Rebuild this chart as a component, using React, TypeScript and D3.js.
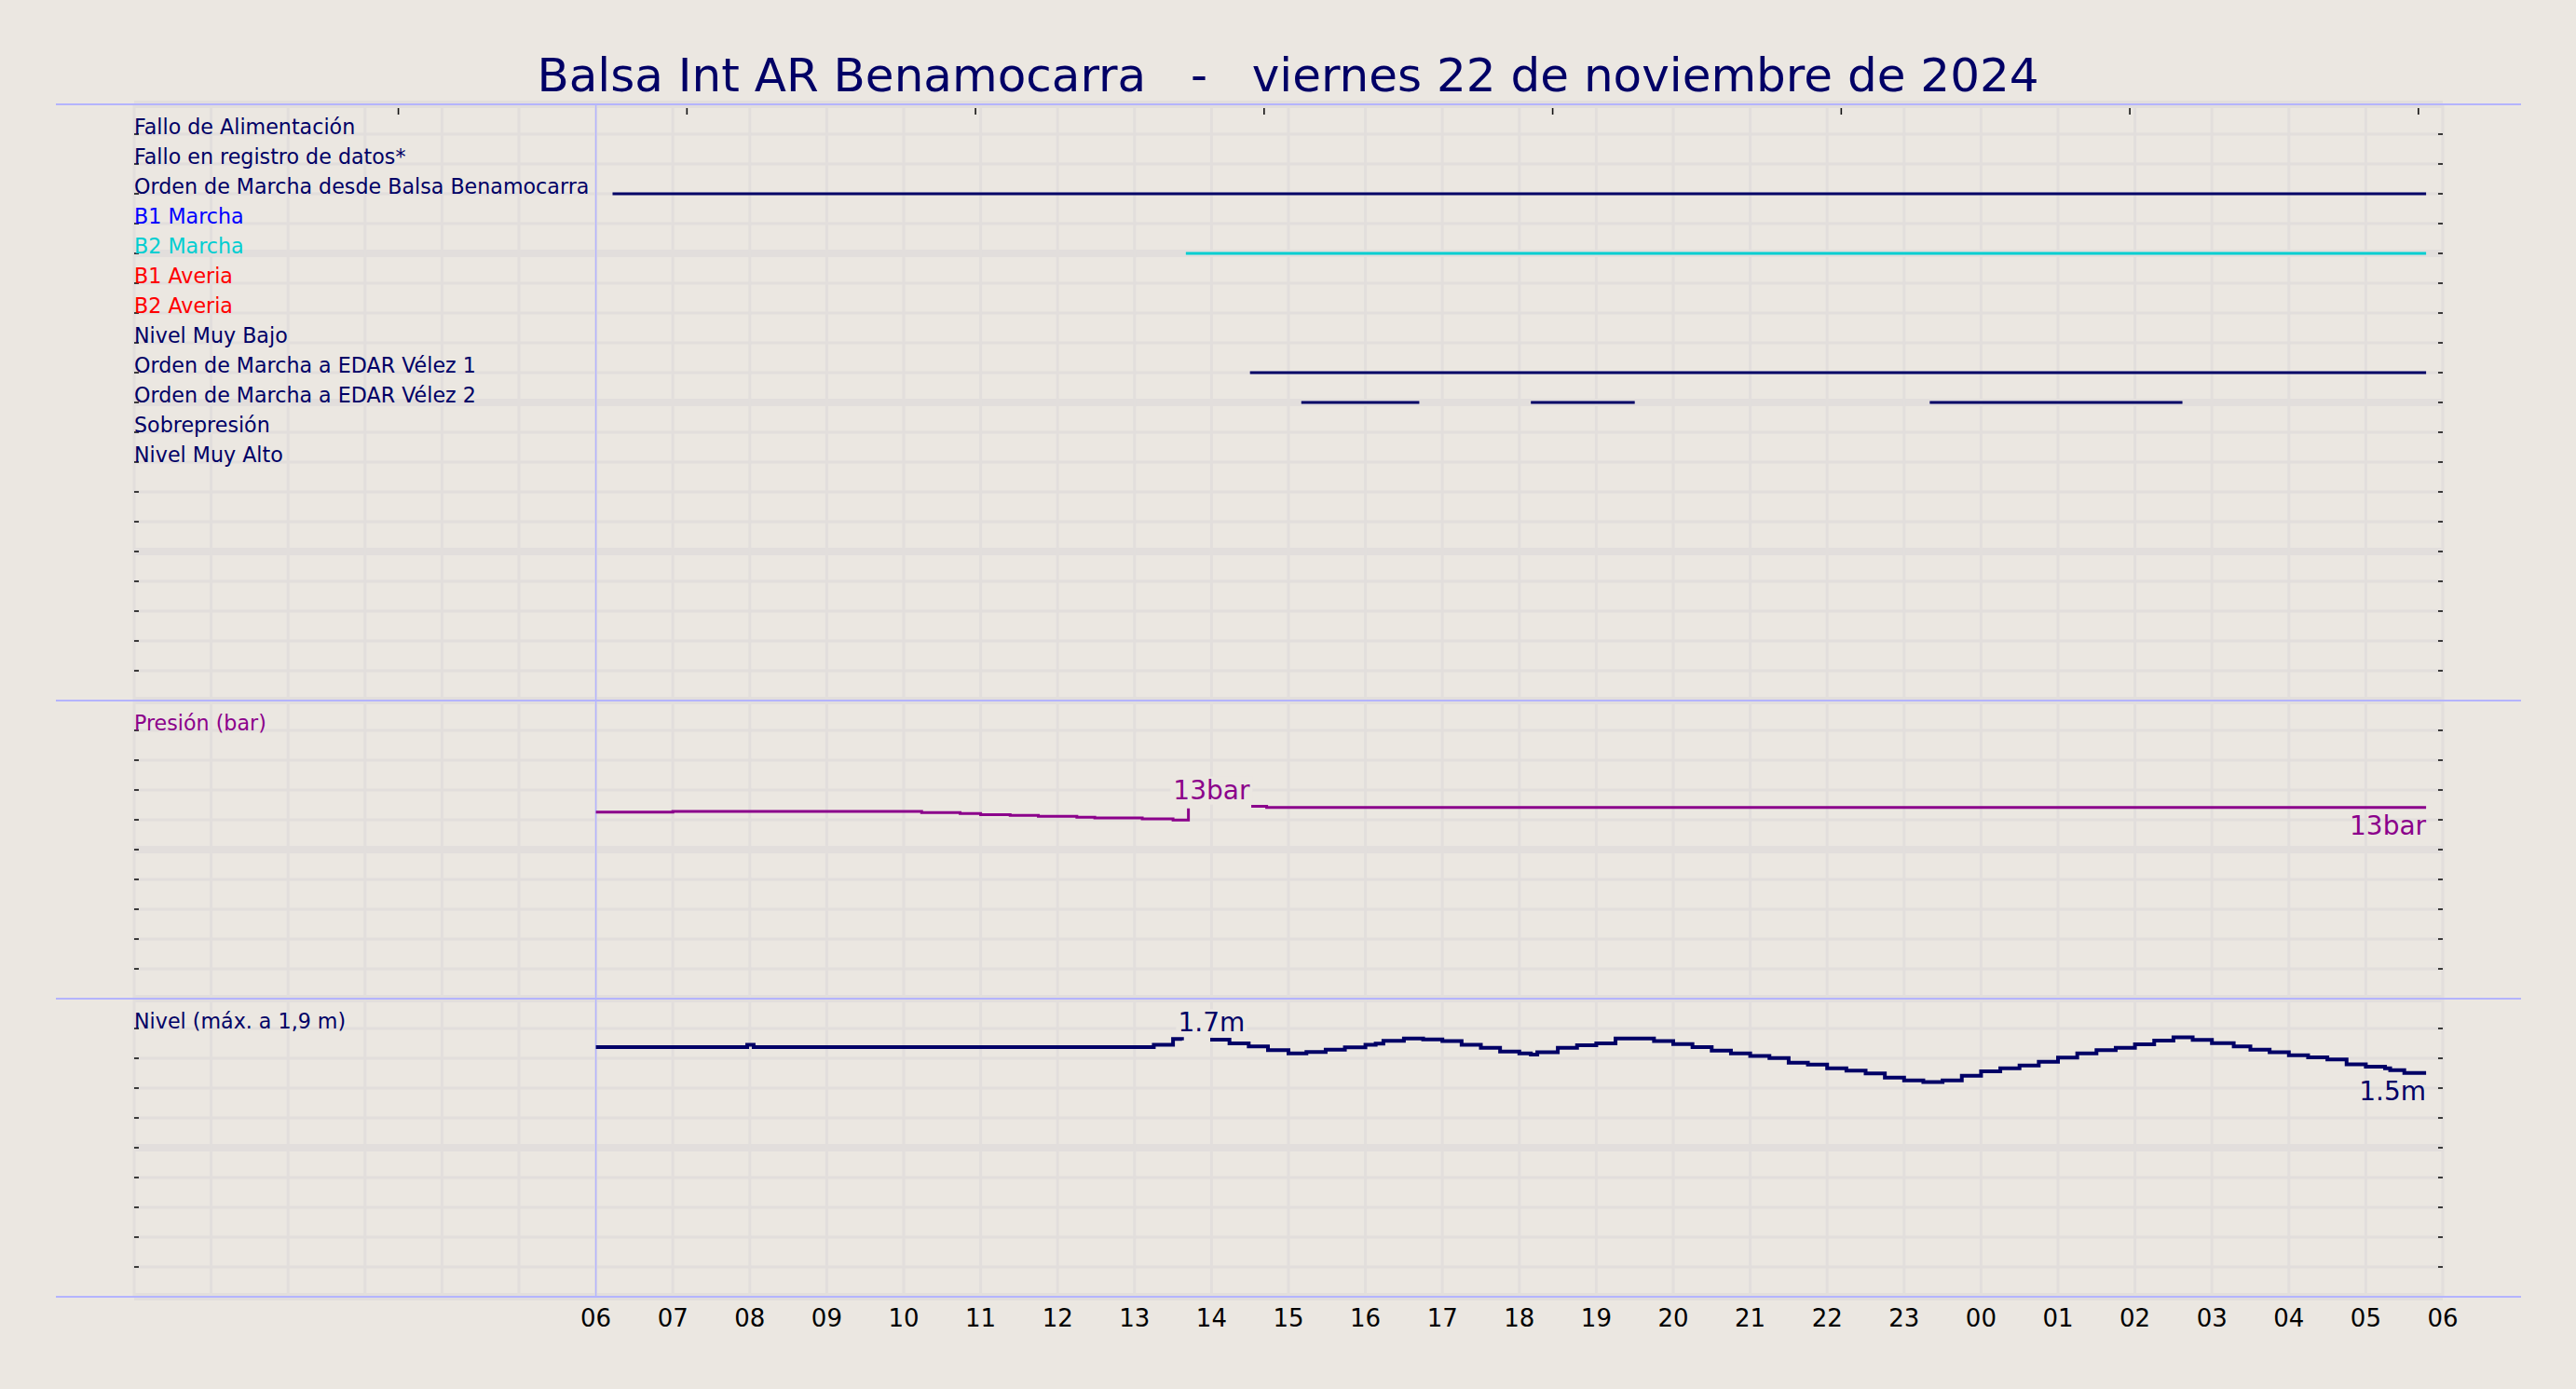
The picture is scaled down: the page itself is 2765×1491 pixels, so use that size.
import React, { useEffect } from 'react';
import * as d3 from 'd3';

const W = 2765;
const H = 1491;
const BG = '#ebe7e1';
const GRID = '#e2dedc';
const SEP = '#b4b4ff';
const NAVY = '#000066';
const PURPLE = '#8b008b';
const FONT = '"DejaVu Sans", Verdana, sans-serif';

const TITLE = 'Balsa Int AR Benamocarra   -   viernes 22 de noviembre de 2024';

// time domain (day-of-month + time)
const domainStart = '22 00:00';
const domainEnd = '23 06:00';
const labelStart = '22 06:00';

// digital signals
const signalLabels = [
  'Fallo de Alimentación',
  'Fallo en registro de datos*',
  'Orden de Marcha desde Balsa Benamocarra',
  'B1 Marcha',
  'B2 Marcha',
  'B1 Averia',
  'B2 Averia',
  'Nivel Muy Bajo',
  'Orden de Marcha a EDAR Vélez 1',
  'Orden de Marcha a EDAR Vélez 2',
  'Sobrepresión',
  'Nivel Muy Alto',
];
const signalColors = [NAVY, NAVY, NAVY, '#0000ff', '#00ced1', '#ff0000', '#ff0000', NAVY, NAVY, NAVY, NAVY, NAVY];

// ON intervals
const onRow = [2, 4, 8, 9, 9, 9];
const onStart = ['22 06:13', '22 13:40', '22 14:30', '22 15:10', '22 18:09', '22 23:20'];
const onEnd = ['23 05:47', '23 05:47', '23 05:47', '22 16:42', '22 19:30', '23 02:37'];

// pressure (bar)
const pressureTimes = [
  '22 06:00', '22 07:00', '22 10:14', '22 10:44', '22 11:00', '22 11:23', '22 11:45', '22 12:15',
  '22 12:29', '22 13:06', '22 13:30', '22 13:42', '22 13:43', '22 14:31', '22 14:43', '23 05:47',
];
const pressureValues: (number | null)[] = [
  12.52, 12.56, 12.48, 12.42, 12.35, 12.29, 12.23, 12.17,
  12.125, 12.06, 11.98, 12.77, null, 12.9, 12.83, 12.83,
];

// level (m)
const levelTimes = [
  '22 06:00', '22 07:58', '22 08:03', '22 13:15', '22 13:30', '22 13:37', '22 13:46', '22 13:59',
  '22 14:14', '22 14:29', '22 14:44', '22 15:00', '22 15:14', '22 15:29', '22 15:44', '22 16:00',
  '22 16:08', '22 16:14', '22 16:30', '22 16:45', '22 17:00', '22 17:15', '22 17:30', '22 17:45',
  '22 18:00', '22 18:09', '22 18:14', '22 18:30', '22 18:45', '22 19:00', '22 19:15', '22 19:45',
  '22 20:00', '22 20:15', '22 20:30', '22 20:45', '22 21:00', '22 21:15', '22 21:30', '22 21:45',
  '22 22:00', '22 22:15', '22 22:30', '22 22:45', '22 23:00', '22 23:15', '22 23:30', '22 23:45',
  '23 00:00', '23 00:15', '23 00:30', '23 00:45', '23 01:00', '23 01:15', '23 01:30', '23 01:45',
  '23 02:00', '23 02:15', '23 02:30', '23 02:45', '23 03:00', '23 03:17', '23 03:30', '23 03:45',
  '23 04:00', '23 04:15', '23 04:30', '23 04:45', '23 05:00', '23 05:15', '23 05:19', '23 05:30',
  '23 05:47',
];
const levelValues: (number | null)[] = [
  1.675, 1.69, 1.675, 1.69, 1.73, 1.72, null, 1.725,
  1.70, 1.68, 1.655, 1.633, 1.642, 1.658, 1.673, 1.69,
  1.698, 1.717, 1.733, 1.727, 1.715, 1.69, 1.67, 1.646,
  1.633, 1.625, 1.64, 1.67, 1.6875, 1.70, 1.733, 1.715,
  1.696, 1.675, 1.652, 1.633, 1.615, 1.602, 1.571, 1.558,
  1.533, 1.517, 1.498, 1.471, 1.452, 1.44, 1.452, 1.483,
  1.5125, 1.533, 1.552, 1.577, 1.604, 1.633, 1.654, 1.671,
  1.694, 1.719, 1.74, 1.723, 1.702, 1.679, 1.658, 1.64,
  1.621, 1.606, 1.592, 1.56, 1.544, 1.533, 1.52, 1.502,
  1.502,
];

// annotations
const annotTime = '22 14:00';
const pressureAnnotValue = 12.9;
const levelAnnotValue = 1.73;

// top ticks (secondary axis marks)
const topTickTimes = ['22 03:26', '22 07:11', '22 10:56', '22 14:41', '22 18:26', '22 22:11', '23 01:56', '23 05:41'];

const parse = d3.timeParse('%d %H:%M');
const P = (s: string) => parse(s) as Date;

export default function App() {
  useEffect(() => {
    document.body.style.margin = '0';
  }, []);

  const left = 144;
  const right = 2622;
  const top = 112;
  const sep1 = 752;
  const sep2 = 1072;
  const bottom = 1392;

  const x = d3.scaleTime().domain([P(domainStart), P(domainEnd)]).range([left, right]);
  const rowY = d3.scaleLinear().domain([0, 40]).range([top, bottom]);
  const yP = d3.scaleLinear().domain([0, 20]).range([sep2, sep1]);
  const yL = d3.scaleLinear().domain([0, 2]).range([bottom, sep2]);

  const hourTicks = d3.timeHour.range(P(domainStart), d3.timeMinute.offset(P(domainEnd), 1));
  const labelTicks = d3.timeHour.range(P(labelStart), d3.timeMinute.offset(P(domainEnd), 1));
  const fmt = d3.timeFormat('%H');
  const rows = d3.range(41);

  const pData = pressureTimes.map((t, i) => ({ t: P(t), v: pressureValues[i] }));
  const lData = levelTimes.map((t, i) => ({ t: P(t), v: levelValues[i] }));

  const pLine = d3
    .line<{ t: Date; v: number | null }>()
    .defined((d) => d.v !== null)
    .x((d) => x(d.t))
    .y((d) => yP(d.v as number))
    .curve(d3.curveStepAfter);
  const lLine = d3
    .line<{ t: Date; v: number | null }>()
    .defined((d) => d.v !== null)
    .x((d) => x(d.t))
    .y((d) => yL(d.v as number))
    .curve(d3.curveStepAfter);

  const lastP = pData[pData.length - 1];
  const lastL = lData[lData.length - 1];
  const ax = x(P(annotTime));
  const pAnnY = yP(pressureAnnotValue) - 8;
  const lAnnY = yL(levelAnnotValue) - 8;

  return (
    <svg width={W} height={H} style={{ display: 'block' }} fontFamily={FONT}>
      <rect x={0} y={0} width={W} height={H} fill={BG} />

      {/* horizontal grid */}
      {rows.map((i) => (
        <line
          key={'h' + i}
          x1={left}
          x2={right}
          y1={rowY(i)}
          y2={rowY(i)}
          stroke={GRID}
          strokeWidth={i % 5 === 0 ? 8 : 3}
        />
      ))}
      {/* vertical grid */}
      {hourTicks.map((t, i) => (
        <line key={'v' + i} x1={x(t)} x2={x(t)} y1={top} y2={bottom} stroke={GRID} strokeWidth={3} />
      ))}

      {/* left / right ticks */}
      {rows.map((i) => (
        <g key={'tk' + i}>
          <line x1={left} x2={left + 5} y1={rowY(i)} y2={rowY(i)} stroke="#111" strokeWidth={1.6} />
          <line x1={right - 5} x2={right} y1={rowY(i)} y2={rowY(i)} stroke="#111" strokeWidth={1.6} />
        </g>
      ))}
      {/* top ticks */}
      {topTickTimes.map((t, i) => (
        <line key={'tt' + i} x1={x(P(t))} x2={x(P(t))} y1={116} y2={123} stroke="#111" strokeWidth={1.6} />
      ))}

      {/* blue vertical line at start of day window */}
      <line x1={x(P(labelStart))} x2={x(P(labelStart))} y1={top} y2={bottom} stroke={SEP} strokeWidth={1.5} />

      {/* separators */}
      {[top, sep1, sep2, bottom].map((y, i) => (
        <line key={'s' + i} x1={60} x2={2706} y1={y} y2={y} stroke={SEP} strokeWidth={2} />
      ))}

      {/* annotation boxes */}
      <rect x={ax - 44} y={pAnnY - 24} width={88} height={30} fill={BG} />
      <rect x={ax - 38} y={lAnnY - 24} width={76} height={28} fill={BG} />

      {/* digital signals */}
      {onRow.map((r, i) => (
        <line
          key={'on' + i}
          x1={x(P(onStart[i]))}
          x2={x(P(onEnd[i]))}
          y1={rowY(r + 1)}
          y2={rowY(r + 1)}
          stroke={signalColors[r]}
          strokeWidth={3}
        />
      ))}

      {/* pressure & level */}
      <path d={pLine(pData) || ''} fill="none" stroke={PURPLE} strokeWidth={3} />
      <path d={lLine(lData) || ''} fill="none" stroke={NAVY} strokeWidth={4} />

      {/* signal labels */}
      {signalLabels.map((s, i) => (
        <text key={'lb' + i} x={left} y={rowY(i + 1)} fontSize={22.2} fill={signalColors[i]}>
          {s}
        </text>
      ))}
      <text x={left} y={rowY(21)} fontSize={22.2} fill={PURPLE}>
        Presión (bar)
      </text>
      <text x={left} y={rowY(31)} fontSize={22.2} fill={NAVY}>
        Nivel (máx. a 1,9 m)
      </text>

      {/* annotations */}
      <text x={ax} y={pAnnY} fontSize={28} fill={PURPLE} textAnchor="middle">
        {Math.round(pressureAnnotValue) + 'bar'}
      </text>
      <text x={ax} y={lAnnY} fontSize={28} fill={NAVY} textAnchor="middle">
        {levelAnnotValue.toFixed(1) + 'm'}
      </text>
      <text x={x(lastP.t)} y={yP(lastP.v as number) + 29} fontSize={28} fill={PURPLE} textAnchor="end">
        {Math.round(lastP.v as number) + 'bar'}
      </text>
      <text x={x(lastL.t)} y={yL(lastL.v as number) + 29} fontSize={28} fill={NAVY} textAnchor="end">
        {(lastL.v as number).toFixed(1) + 'm'}
      </text>

      {/* x tick labels */}
      {labelTicks.map((t, i) => (
        <text key={'xl' + i} x={x(t)} y={1424} fontSize={26} fill="#000" textAnchor="middle">
          {fmt(t)}
        </text>
      ))}

      {/* title */}
      <text x={W / 2} y={98} fontSize={50} fill={NAVY} textAnchor="middle" style={{ whiteSpace: 'pre' }}>
        {TITLE}
      </text>
    </svg>
  );
}
